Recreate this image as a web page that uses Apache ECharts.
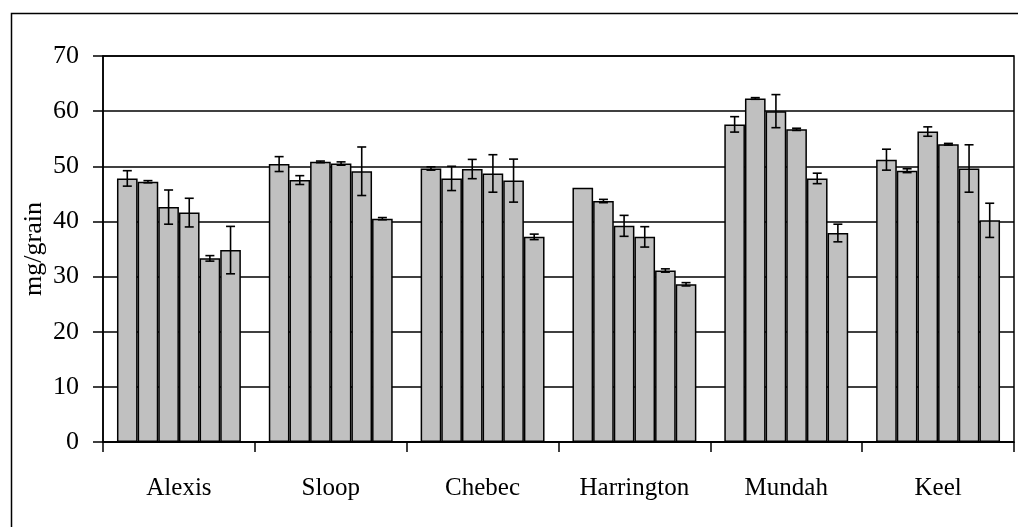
<!DOCTYPE html>
<html>
<head>
<meta charset="utf-8">
<script src="https://cdn.jsdelivr.net/npm/echarts@6/dist/echarts.min.js"></script>
<style>
html,body{margin:0;padding:0;background:#fff;}
#chart{width:1018px;height:527px;}
</style>
</head>
<body>
<div id="chart"></div>
<script>
var categories = ['Alexis','Sloop','Chebec','Harrington','Mundah','Keel'];
var yTicks = [0,10,20,30,40,50,60,70];
var bar1 = [47.8, 50.4, 49.6, 46.1, 57.6, 51.2];
var bar2 = [47.2, 47.5, 47.8, 43.7, 62.3, 49.2];
var bar3 = [42.6, 50.8, 49.5, 39.2, 60.0, 56.3];
var bar4 = [41.6, 50.5, 48.7, 37.2, 56.7, 54.0];
var bar5 = [33.3, 49.1, 47.4, 31.1, 47.8, 49.6];
var bar6 = [34.8, 40.5, 37.2, 28.6, 37.9, 40.2];
var err1 = [1.4, 1.35, 0.3, 0, 1.4, 1.9];
var err2 = [0.2, 0.8, 2.2, 0.3, 0.15, 0.35];
var err3 = [3.1, 0.15, 1.75, 1.9, 3.0, 0.85];
var err4 = [2.6, 0.3, 3.4, 1.85, 0.2, 0.15];
var err5 = [0.5, 4.4, 3.9, 0.3, 0.95, 4.3];
var err6 = [4.3, 0.2, 0.5, 0.3, 1.6, 3.1];

var bars = [bar1, bar2, bar3, bar4, bar5, bar6];
var errs = [err1, err2, err3, err4, err5, err6];
var nBars = bars.length;
var catGap = 0.184;
var font = 'Liberation Serif';

var series = [];
bars.forEach(function (vals, j) {
  series.push({
    type: 'bar',
    data: vals,
    barGap: '0%',
    barCategoryGap: (catGap * 100) + '%',
    itemStyle: { color: '#c0c0c0', borderColor: '#000', borderWidth: 1.5 },
    z: 2
  });
});
bars.forEach(function (vals, j) {
  series.push({
    type: 'custom',
    z: 5,
    data: vals.map(function (v, i) { return [i, v, errs[j][i]]; }),
    renderItem: function (params, api) {
      var i = api.value(0), v = api.value(1), e = api.value(2);
      if (!e) return null;
      var band = api.size([1, 0])[0];
      var bw = band * (1 - catGap) / nBars;
      var c = api.coord([i, v]);
      var x = c[0] - band * (1 - catGap) / 2 + (j + 0.5) * bw;
      var top = api.coord([i, v + e])[1];
      var bot = api.coord([i, v - e])[1];
      var cap = 4.5;
      var st = { stroke: '#000', lineWidth: 1.6 };
      return {
        type: 'group',
        children: [
          { type: 'line', shape: { x1: x, y1: top, x2: x, y2: bot }, style: st },
          { type: 'line', shape: { x1: x - cap, y1: top, x2: x + cap, y2: top }, style: st },
          { type: 'line', shape: { x1: x - cap, y1: bot, x2: x + cap, y2: bot }, style: st }
        ]
      };
    }
  });
});

var chart = echarts.init(document.getElementById('chart'));
chart.setOption({
  animation: false,
  backgroundColor: '#fff',
  graphic: [{
    type: 'rect',
    left: 9, top: 11,
    shape: { width: 1100, height: 700 },
    style: { fill: 'none', stroke: '#000', lineWidth: 1.5 },
    z: 0
  }],
  grid: {
    left: 103, top: 56, right: 4, bottom: 85,
    show: true, borderColor: '#000', borderWidth: 1.5
  },
  xAxis: {
    type: 'category',
    data: categories,
    axisLine: { lineStyle: { color: '#000', width: 1.5 } },
    axisTick: { show: true, length: 10, lineStyle: { color: '#000', width: 1.5 } },
    axisLabel: { color: '#000', fontFamily: font, fontSize: 25, margin: 34 }
  },
  yAxis: {
    type: 'value',
    min: yTicks[0], max: yTicks[yTicks.length - 1], interval: 10,
    name: 'mg/grain',
    nameLocation: 'middle',
    nameGap: 56,
    nameMoveOverlap: false,
    nameRotate: 90,
    nameTextStyle: { color: '#000', fontFamily: font, fontSize: 26 },
    axisLine: { show: true, lineStyle: { color: '#000', width: 1.5 } },
    axisTick: { show: true, length: 10, lineStyle: { color: '#000', width: 1.5 } },
    axisLabel: { color: '#000', fontFamily: font, fontSize: 26, margin: 24 },
    splitLine: { show: true, lineStyle: { color: '#000', width: 1.5 } }
  },
  series: series
});
</script>
</body>
</html>
